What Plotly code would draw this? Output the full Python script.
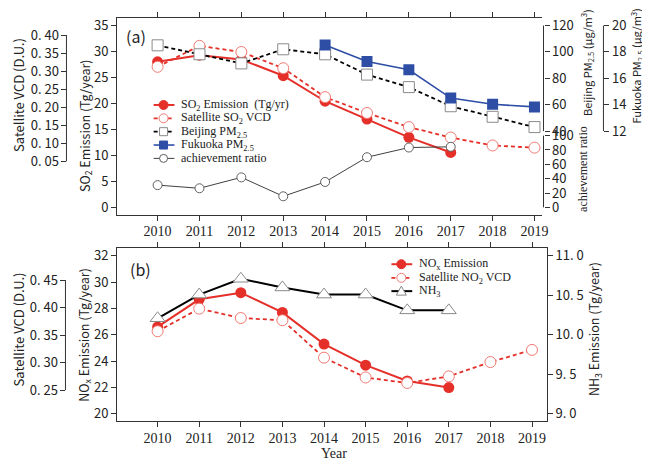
import plotly.graph_objects as go

# ---------------- data ----------------
years = [2010, 2011, 2012, 2013, 2014, 2015, 2016, 2017, 2018, 2019]
years_to_2017 = years[:8]
fukuoka_years = years[4:]

so2_emission = [27.97, 29.23, 28.4, 25.3, 20.4, 16.97, 13.47, 10.57]
so2_vcd = [0.312, 0.370, 0.353, 0.308, 0.228, 0.184, 0.145, 0.116, 0.094, 0.088]
beijing_pm25 = [105.0, 98.2, 91.3, 102.0, 98.2, 82.8, 73.3, 58.8, 50.8, 43.0]
fukuoka_pm25 = [18.53, 17.28, 16.65, 14.5, 14.03, 13.83]
achievement_ratio = [31.0, 26.6, 41.8, 15.4, 35.4, 69.9, 83.4, 84.4]

nox_emission = [26.6, 28.7, 29.2, 27.7, 25.3, 23.7, 22.5, 22.0]
no2_vcd = [0.357, 0.398, 0.381, 0.377, 0.309, 0.273, 0.263, 0.275, 0.301, 0.323]
nh3_emission = [10.21, 10.51, 10.71, 10.60, 10.51, 10.51, 10.31, 10.31]

so2_ticks = [0, 5, 10, 15, 20, 25, 30, 35]
vcd_a_ticks = [0.05, 0.10, 0.15, 0.20, 0.25, 0.30, 0.35, 0.40]
beijing_ticks = [40, 60, 80, 100, 120]
fukuoka_ticks = [12, 14, 16, 18, 20]
ratio_ticks = [0, 20, 40, 60, 80, 100]
nox_ticks = [20, 22, 24, 26, 28, 30, 32]
vcd_b_ticks = [0.25, 0.30, 0.35, 0.40, 0.45]
nh3_ticks = [9.0, 9.5, 10.0, 10.5, 11.0]

legend_a = ["SO<sub>2</sub> Emission  (Tg/yr)", "Satellite SO<sub>2</sub> VCD",
            "Beijing PM<sub>2.5</sub>", "Fukuoka PM<sub>2.5</sub>", "achievement ratio"]
legend_b = ["NO<sub>x</sub> Emission", "Satellite NO<sub>2</sub> VCD", "NH<sub>3</sub>"]

# ---------------- style ----------------
W, H = 650, 462
OFF = 8  # the page body margin shifts the figure by 8 px
SANS = "Noto Sans CJK JP, Liberation Sans, Arial, sans-serif"
SERIF = "Liberation Serif, Times New Roman, serif"
RED = "#e5302a"
RED_LIGHT = "#f07a72"
BLUE = "#2e4ea6"
GRAY = "#8a8a8a"
AX = "#333333"
DASH = "4px,3px"


def px(x):
    return (x - OFF) / W


def py(y):
    return 1 - (y - OFF) / H


def vcd_text(v):
    return f"{v:.2f}".replace(".", ". ")


def nh3_text(v):
    return f"{v:.1f}".replace(".", ". ")


fig = go.Figure()

# ---- panel (a) ----
fig.add_trace(go.Scatter(x=years_to_2017, y=so2_emission, xaxis="x", yaxis="y",
                         mode="lines+markers", line=dict(color=RED, width=2),
                         marker=dict(symbol="circle", size=11, color=RED, line=dict(width=0))))
fig.add_trace(go.Scatter(x=years, y=so2_vcd, xaxis="x", yaxis="y2",
                         mode="lines+markers", line=dict(color=RED, width=1.8, dash=DASH),
                         marker=dict(symbol="circle", size=11, color="white",
                                     line=dict(color=RED_LIGHT, width=1))))
fig.add_trace(go.Scatter(x=years, y=beijing_pm25, xaxis="x", yaxis="y3",
                         mode="lines+markers", line=dict(color="black", width=1.8, dash=DASH),
                         marker=dict(symbol="square", size=11, color="white",
                                     line=dict(color=GRAY, width=1))))
fig.add_trace(go.Scatter(x=fukuoka_years, y=fukuoka_pm25, xaxis="x", yaxis="y4",
                         mode="lines+markers", line=dict(color=BLUE, width=1.6),
                         marker=dict(symbol="square", size=11, color=BLUE, line=dict(width=0))))
fig.add_trace(go.Scatter(x=years_to_2017, y=achievement_ratio, xaxis="x", yaxis="y5",
                         mode="lines+markers", line=dict(color="#404040", width=1),
                         marker=dict(symbol="circle", size=9, color="white",
                                     line=dict(color="#606060", width=1))))

# ---- panel (b) ----
fig.add_trace(go.Scatter(x=years_to_2017, y=nox_emission, xaxis="x2", yaxis="y6",
                         mode="lines+markers", line=dict(color=RED, width=2),
                         marker=dict(symbol="circle", size=11, color=RED, line=dict(width=0))))
fig.add_trace(go.Scatter(x=years, y=no2_vcd, xaxis="x2", yaxis="y7",
                         mode="lines+markers", line=dict(color=RED, width=1.8, dash=DASH),
                         marker=dict(symbol="circle", size=11, color="white",
                                     line=dict(color=RED_LIGHT, width=1))))
fig.add_trace(go.Scatter(x=years_to_2017, y=nh3_emission, xaxis="x2", yaxis="y8",
                         mode="lines+markers", line=dict(color="black", width=2),
                         marker=dict(symbol="triangle-up", size=13, color="white",
                                     line=dict(color=GRAY, width=1))))

tick_sans = dict(family=SANS, size=13, color="#222")
common_y = dict(showgrid=False, zeroline=False, ticks="outside", ticklen=5,
                tickcolor=AX, tickwidth=1, tickfont=tick_sans)
common_x = dict(tickvals=years, ticktext=[str(v) for v in years], ticks="outside", ticklen=5,
                tickcolor=AX, showline=True, linecolor=AX, linewidth=1, mirror="ticks",
                showgrid=False, zeroline=False,
                tickfont=dict(family=SERIF, size=14, color="#222"))

fig.update_layout(
    width=W, height=H, margin=dict(l=0, r=0, t=0, b=0),
    paper_bgcolor="white", plot_bgcolor="rgba(0,0,0,0)", showlegend=False,
    xaxis=dict(domain=[px(118), px(547)], anchor="y", range=[2009.03, 2019.18],
               ticklabelstandoff=-2, **common_x),
    yaxis=dict(domain=[py(214), py(15)], anchor="x", range=[-1.39, 36.39], tickvals=so2_ticks,
               showline=True, linecolor=AX, linewidth=1, **common_y),
    yaxis2=dict(overlaying="y", anchor="free", position=px(67), side="left",
                range=[-0.098, 0.4474], tickvals=vcd_a_ticks,
                ticktext=[vcd_text(v) for v in vcd_a_ticks], showline=False, **common_y),
    yaxis3=dict(overlaying="y", anchor="free", position=px(548.5), side="right",
                range=[-23.5, 125.78], tickvals=beijing_ticks, showline=False, **common_y),
    yaxis4=dict(overlaying="y", anchor="free", position=px(609), side="right",
                range=[5.65, 20.578], tickvals=fukuoka_ticks, showline=False, **common_y),
    yaxis5=dict(overlaying="y", anchor="free", position=px(548.5), side="right",
                range=[-10.34, 264.1], tickvals=ratio_ticks, showline=False, **common_y),
    xaxis2=dict(domain=[px(118), px(552)], anchor="y6", range=[2009.023, 2019.36],
                **common_x),
    yaxis6=dict(domain=[py(422), py(248)], anchor="x2", range=[19.497, 32.563], tickvals=nox_ticks,
                showline=True, linecolor=AX, linewidth=1, mirror=True, **common_y),
    yaxis7=dict(overlaying="y6", anchor="free", position=px(66), side="left",
                range=[0.1948, 0.5075], tickvals=vcd_b_ticks,
                ticktext=[vcd_text(v) for v in vcd_b_ticks], showline=False, **common_y),
    yaxis8=dict(overlaying="y6", anchor="x2", side="right",
                range=[8.916, 11.094], tickvals=nh3_ticks,
                ticktext=[nh3_text(v) for v in nh3_ticks], showline=False, **common_y),
)

shapes = []
# axis brackets
shapes.append(dict(type="line", xref="paper", yref="y2", x0=px(67), x1=px(67),
                   y0=vcd_a_ticks[0], y1=vcd_a_ticks[-1], line=dict(color=AX, width=1)))
shapes.append(dict(type="line", xref="paper", yref="y3", x0=px(548.5), x1=px(548.5),
                   y0=beijing_ticks[0], y1=beijing_ticks[-1], line=dict(color=AX, width=1)))
shapes.append(dict(type="line", xref="paper", yref="y4", x0=px(609), x1=px(609),
                   y0=fukuoka_ticks[0], y1=fukuoka_ticks[-1], line=dict(color=AX, width=1)))
shapes.append(dict(type="line", xref="paper", yref="y5", x0=px(548.5), x1=px(548.5),
                   y0=ratio_ticks[0], y1=ratio_ticks[-1], line=dict(color=AX, width=1)))
shapes.append(dict(type="line", xref="paper", yref="y7", x0=px(66), x1=px(66),
                   y0=vcd_b_ticks[0], y1=vcd_b_ticks[-1], line=dict(color=AX, width=1)))


def legend_key(xc, yc, x0, x1, line_color, line_width, dash, marker, mcolor, mline, msize):
    out = [dict(type="line", xref="paper", yref="paper", x0=px(x0), x1=px(x1),
                y0=py(yc), y1=py(yc), line=dict(color=line_color, width=line_width, dash=dash))]
    r = msize / 2
    base = dict(xref="paper", yref="paper", xsizemode="pixel", ysizemode="pixel",
                xanchor=px(xc), yanchor=py(yc), fillcolor=mcolor,
                line=dict(color=mline, width=1))
    if marker == "circle":
        out.append(dict(type="circle", x0=-r, x1=r, y0=-r, y1=r, **base))
    elif marker == "square":
        out.append(dict(type="rect", x0=-r, x1=r, y0=-r, y1=r, **base))
    else:
        out.append(dict(type="path", path=f"M{-r},{-r*0.8} L{r},{-r*0.8} L0,{r} Z", **base))
    return out


legend_a_style = [
    (RED, 2, "solid", "circle", RED, RED, 9),
    (RED, 1.8, DASH, "circle", "white", RED_LIGHT, 9),
    ("black", 1.8, DASH, "square", "white", GRAY, 8),
    (BLUE, 1.6, "solid", "square", BLUE, BLUE, 8),
    ("#404040", 1, "solid", "circle", "white", "#606060", 8),
]
legend_a_rows = [103, 116.5, 130, 143.5, 157]
annotations = []
for label, st, yr in zip(legend_a, legend_a_style, legend_a_rows):
    shapes += legend_key(165, yr, 155, 176, *st)
    annotations.append(dict(text=label, xref="paper", yref="paper", x=px(181), y=py(yr),
                            xanchor="left", yanchor="middle", showarrow=False,
                            font=dict(family=SERIF, size=12, color="#222")))

legend_b_style = [
    (RED, 2, "solid", "circle", RED, RED, 9),
    (RED, 1.8, DASH, "circle", "white", RED_LIGHT, 9),
    ("black", 2, "solid", "triangle", "white", GRAY, 10),
]
legend_b_rows = [264, 277.7, 291.2]
for label, st, yr in zip(legend_b, legend_b_style, legend_b_rows):
    shapes += legend_key(405, yr, 395, 416, *st)
    annotations.append(dict(text=label, xref="paper", yref="paper", x=px(421), y=py(yr),
                            xanchor="left", yanchor="middle", showarrow=False,
                            font=dict(family=SERIF, size=12, color="#222")))


def title(text, x, y, font, size, angle=-90):
    return dict(text=text, xref="paper", yref="paper", x=px(x), y=py(y), xanchor="center",
                yanchor="middle", showarrow=False, textangle=angle,
                font=dict(family=font, size=size, color="#222"))


annotations += [
    title("(a)", 137, 33, SANS, 16, 0),
    title("(b)", 142, 269, SANS, 16, 0),
    title("Satellite VCD (D.U.)", 18, 93, SANS, 13),
    title("SO<sub>2</sub> Emission (Tg/year)", 86, 124, SANS, 12.5),
    title("Beijing PM<sub>2.5</sub> (μg/m<sup>3</sup>)", 593, 60, SANS, 11),
    title("Fukuoka PM<sub>2.5</sub> (μg/m<sup>3</sup>)", 643, 64, SANS, 11),
    title("achievement ratio", 589, 168, SERIF, 12),
    title("Satellite VCD (D.U.)", 19, 330, SANS, 13),
    title("NO<sub>x</sub> Emission (Tg/year)", 85, 335, SANS, 12.5),
    title("NH<sub>3</sub> Emission (Tg/year)", 600, 330, SANS, 12.5),
    title("Year", 337, 455, SERIF, 14, 0),
]

fig.update_layout(shapes=shapes, annotations=annotations)
fig.write_html("out.html")
